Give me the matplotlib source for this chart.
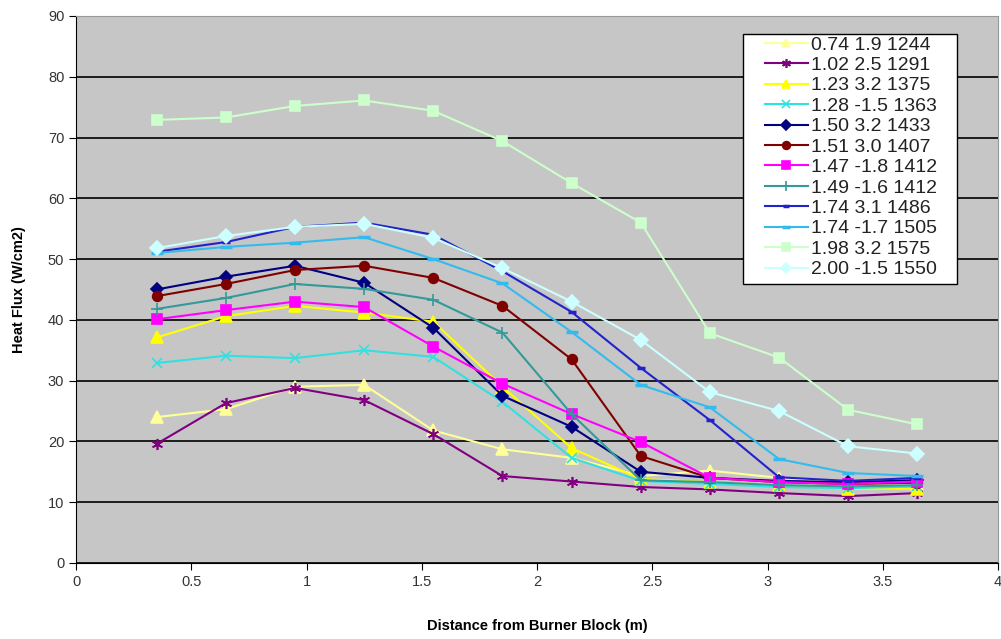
import matplotlib
matplotlib.use('Agg')
import matplotlib.pyplot as plt
from matplotlib.patches import Rectangle

plt.rcParams['font.family'] = ['Liberation Sans', 'DejaVu Sans']

# distance from burner block (m)
distance = [0.35, 0.65, 0.95, 1.25, 1.55, 1.85, 2.15, 2.45, 2.75, 3.05, 3.35, 3.65]

labels = ['0.74 1.9 1244', '1.02 2.5 1291', '1.23 3.2 1375', '1.28 -1.5 1363',
          '1.50 3.2 1433', '1.51 3.0 1407', '1.47 -1.8 1412', '1.49 -1.6 1412',
          '1.74 3.1 1486', '1.74 -1.7 1505', '1.98 3.2 1575', '2.00 -1.5 1550']

flux_074 = [24.0, 25.3, 29.0, 29.3, 21.8, 18.7, 17.3, 14.3, 15.2, 14.0, 13.2, 13.0]
flux_102 = [19.6, 26.3, 28.8, 26.8, 21.2, 14.3, 13.4, 12.5, 12.1, 11.5, 11.0, 11.5]
flux_123 = [37.1, 40.6, 42.3, 41.2, 39.7, 29.0, 18.9, 13.8, 13.3, 12.8, 12.2, 12.2]
flux_128 = [32.9, 34.1, 33.7, 35.0, 33.9, 26.5, 17.3, 13.5, 13.0, 12.5, 12.3, 12.6]
flux_150 = [45.0, 47.1, 48.9, 46.1, 38.7, 27.5, 22.4, 15.0, 14.0, 13.5, 13.3, 13.6]
flux_151 = [43.9, 45.9, 48.2, 48.9, 46.9, 42.3, 33.5, 17.6, 14.0, 13.3, 13.0, 13.2]
flux_147 = [40.1, 41.6, 43.0, 42.1, 35.6, 29.5, 24.5, 19.9, 14.0, 13.3, 13.0, 13.4]
flux_149 = [41.8, 43.6, 45.9, 45.1, 43.3, 37.9, 24.5, 13.6, 13.3, 12.8, 12.6, 12.8]
flux_174a = [51.2, 52.8, 55.3, 56.0, 54.0, 48.0, 41.3, 32.1, 23.5, 14.1, 13.5, 14.0]
flux_174b = [51.0, 52.0, 52.7, 53.6, 50.0, 46.0, 38.0, 29.3, 25.6, 17.1, 14.8, 14.3]
flux_198 = [72.9, 73.3, 75.2, 76.1, 74.4, 69.4, 62.5, 56.0, 37.8, 33.8, 25.2, 22.8]
flux_200 = [51.8, 53.8, 55.3, 55.8, 53.5, 48.5, 43.0, 36.7, 28.1, 25.0, 19.2, 18.0]

series = [flux_074, flux_102, flux_123, flux_128, flux_150, flux_151,
          flux_147, flux_149, flux_174a, flux_174b, flux_198, flux_200]

colors = ['#FFFF99', '#800080', '#FFFF00', '#33E0E0', '#000080', '#800000',
          '#FF00FF', '#339999', '#2222CC', '#33BBEE', '#CCFFCC', '#CCFFFF']
markers = ['^', (6, 2, 0), '^', 'x', 'D', 'o', 's', '+', '_', '_', 's', 'D']
sizes = [8, 8, 8, 7, 6, 7, 7, 9, 6, 8, 7, 7]

fig = plt.figure(figsize=(10.01, 6.39), dpi=100)
ax = fig.add_axes([0.076, 0.119, 0.921, 0.856])
ax.set_facecolor('#C6C6C6')

for ys, lab, c, m, s in zip(series, labels, colors, markers, sizes):
    ax.plot(distance, ys, color=c, marker=m, markersize=s, linewidth=1.5,
            markeredgecolor=c, markeredgewidth=2.5 if m == '_' else 1.2,
            label=lab)

ax.set_xlim(0, 4)
ax.set_ylim(0, 90)
ax.set_xticks([0, 0.5, 1, 1.5, 2, 2.5, 3, 3.5, 4])
ax.set_xticklabels(['0', '0.5', '1', '1.5', '2', '2.5', '3', '3.5', '4'])
ax.set_yticks(range(0, 91, 10))
ax.yaxis.grid(True, color='black', linewidth=1.2)
ax.set_axisbelow(True)
ax.tick_params(labelsize=10.5, labelcolor='#333333', color='black',
               length=5, direction='out')

for sp in ['top', 'right']:
    ax.spines[sp].set_color('#999999')
for sp in ['left', 'bottom']:
    ax.spines[sp].set_color('black')

ax.set_xlabel('Distance from Burner Block (m)', fontsize=10.5, fontweight='bold',
              labelpad=22)
ax.set_ylabel('Heat Flux (W/cm2)', fontsize=10.5, fontweight='bold', labelpad=16)

# legend box drawn separately (wide side padding like the excel one)
box = Rectangle((0.742, 0.5556), 0.2138, 0.3912, transform=fig.transFigure,
                facecolor='white', edgecolor='black', linewidth=1.0,
                zorder=4.5, clip_on=False)
ax.add_patch(box)

leg = ax.legend(loc='upper left', bbox_to_anchor=(0.764, 0.9437),
                bbox_transform=fig.transFigure, fontsize=14, frameon=False,
                handlelength=2.2, handletextpad=0.2, labelspacing=0.145,
                borderpad=0, borderaxespad=0, markerscale=0.8)
for t in leg.get_texts():
    t.set_color('#222222')

plt.savefig('out.png', dpi=100)
